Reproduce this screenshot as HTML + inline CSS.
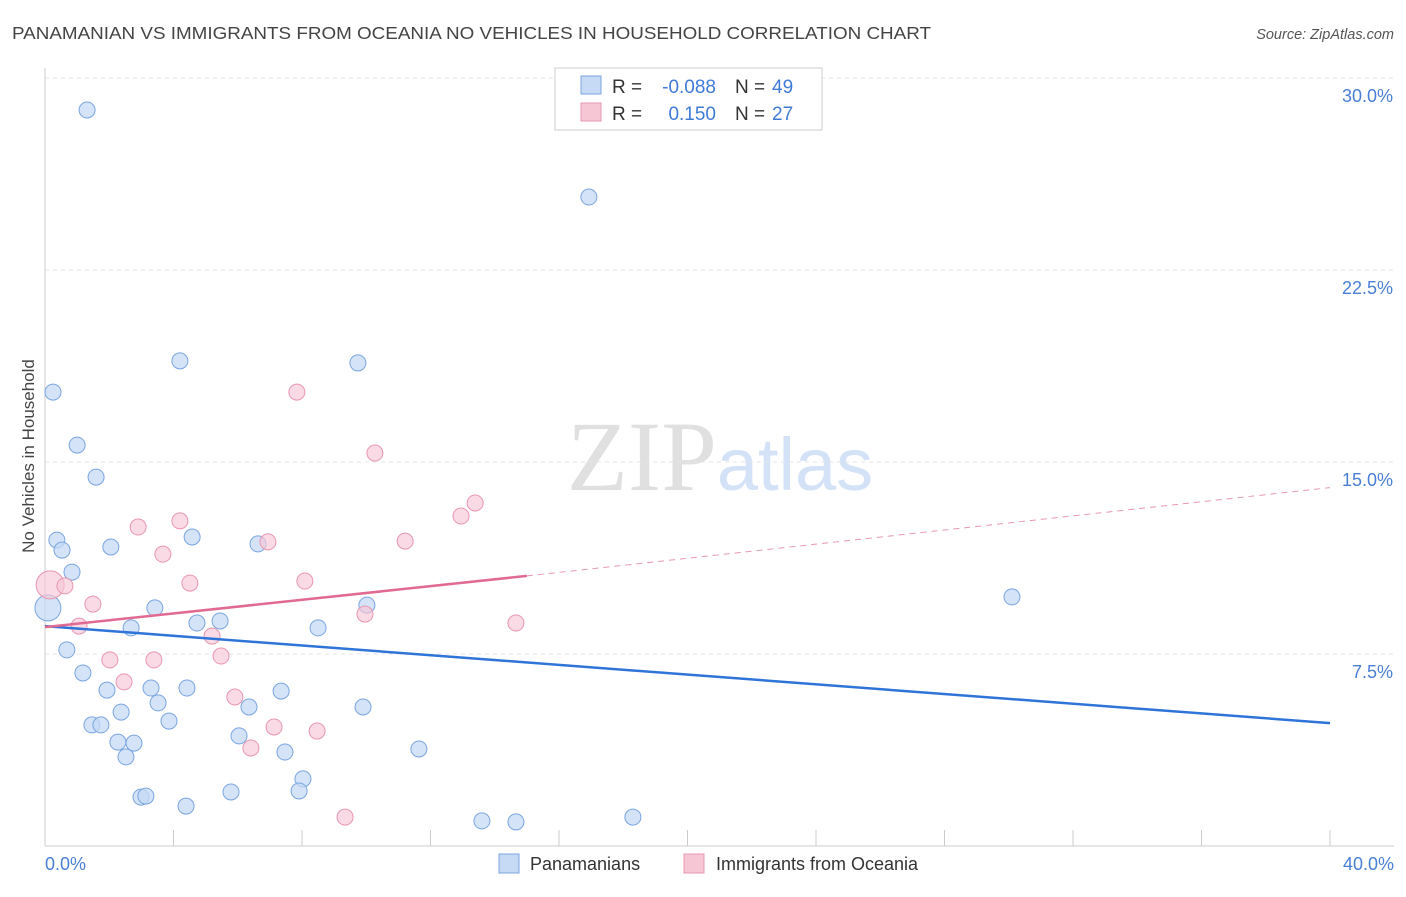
<!DOCTYPE html>
<html><head><meta charset="utf-8"><style>
body{margin:0;background:#fff;font-family:"Liberation Sans",sans-serif}
</style></head><body>
<svg id="chart" width="1406" height="892" xmlns="http://www.w3.org/2000/svg" font-family="Liberation Sans, sans-serif">
<text x="12" y="39" font-size="17.5" fill="#444" textLength="919" lengthAdjust="spacingAndGlyphs">PANAMANIAN VS IMMIGRANTS FROM OCEANIA NO VEHICLES IN HOUSEHOLD CORRELATION CHART</text>
<text x="1394" y="39" font-size="14.5" fill="#555" font-style="italic" text-anchor="end">Source: ZipAtlas.com</text>
<text transform="translate(34,456) rotate(-90)" font-size="17" fill="#444" text-anchor="middle">No Vehicles in Household</text>
<text x="720" y="490" font-size="100" text-anchor="middle"><tspan fill="#e0e0e0" font-family="Liberation Serif, serif">ZIP</tspan><tspan fill="#d3e2f6" font-size="74">atlas</tspan></text>
<g id="grid"></g><g id="axes"></g><g id="marks"></g>
<g>
<rect x="555" y="68" width="267" height="62" fill="#fff" stroke="#ccc"/>
<rect x="581" y="76" width="20" height="18" fill="#c6d9f5" stroke="#7aa5e0"/>
<rect x="581" y="103" width="20" height="18" fill="#f7c6d5" stroke="#e897b0"/>
<text x="612" y="93" font-size="19" fill="#333">R =</text>
<text x="716" y="93" font-size="19" fill="#3f7bd6" text-anchor="end">-0.088</text>
<text x="735" y="93" font-size="19" fill="#333">N =</text>
<text x="772" y="93" font-size="19" fill="#3f7bd6">49</text>
<text x="612" y="120" font-size="19" fill="#333">R =</text>
<text x="716" y="120" font-size="19" fill="#3f7bd6" text-anchor="end">0.150</text>
<text x="735" y="120" font-size="19" fill="#333">N =</text>
<text x="772" y="120" font-size="19" fill="#3f7bd6">27</text>
</g>
<g>
<rect x="499" y="854" width="20" height="19" fill="#c6d9f5" stroke="#7aa5e0"/>
<text x="530" y="870" font-size="18" fill="#333">Panamanians</text>
<rect x="684" y="854" width="20" height="19" fill="#f7c6d5" stroke="#e897b0"/>
<text x="716" y="870" font-size="18" fill="#333">Immigrants from Oceania</text>
</g>
</svg>
<script>
const blueX=[1.31,16.93,4.2,9.74,0.25,1.0,1.59,0.37,0.53,2.05,4.58,6.63,0.84,0.09,3.42,10.02,30.1,2.68,4.73,5.45,8.5,0.68,1.18,1.93,3.3,4.42,7.35,3.52,2.37,6.35,9.9,3.86,1.46,1.74,6.04,2.27,2.77,7.47,11.64,2.52,8.03,7.91,5.79,2.99,3.14,4.39,13.6,14.66,18.3];
const blueY=[28.75,25.35,18.95,18.87,17.73,15.66,14.41,11.95,11.56,11.68,12.07,11.8,10.7,9.3,9.3,9.41,9.73,8.52,8.71,8.79,8.52,7.66,6.76,6.09,6.17,6.17,6.05,5.59,5.23,5.43,5.43,4.88,4.73,4.73,4.3,4.06,4.02,3.67,3.79,3.48,2.62,2.15,2.11,1.91,1.95,1.56,0.98,0.94,1.13];
const pinkX=[7.84,10.27,13.39,12.95,4.2,2.9,6.94,11.21,3.67,4.51,8.09,0.16,0.62,1.49,9.96,14.66,1.06,5.2,5.48,2.02,3.39,2.46,5.91,7.13,8.47,6.41,9.34];
const pinkY=[17.73,15.35,13.4,12.89,12.7,12.46,11.88,11.91,11.4,10.27,10.35,10.2,10.16,9.45,9.06,8.71,8.59,8.2,7.42,7.27,7.27,6.41,5.82,4.65,4.49,3.83,1.13];
const yTicks=[7.5,15.0,22.5,30.0];
const xTickLabels=["0.0%","40.0%"];
const blueTrend=[8.59,4.8];
const pinkTrend=[8.55,10.55,14.0];
const NS="http://www.w3.org/2000/svg";
const sx=v=>45+v*32.125, sy=v=>846-v*25.6;
function mk(tag,attrs,parent){const e=document.createElementNS(NS,tag);for(const k in attrs)e.setAttribute(k,attrs[k]);document.getElementById(parent).appendChild(e);return e;}
yTicks.forEach(t=>{
 const l=mk('line',{x1:45,x2:1394,y1:sy(t),y2:sy(t),stroke:'#e6e6e6','stroke-dasharray':'4,4'},'grid');
 
 
 const tx=mk('text',{x:1393,y:sy(t)+24,'font-size':18,fill:'#4a7fd6','text-anchor':'end'},'axes');
 tx.textContent=t.toFixed(1)+'%';
 
 
});
const ax=mk('line',{x1:45,x2:45,y1:68,y2:846,stroke:'#ccc'},'axes');


const bx=mk('line',{x1:45,x2:1394,y1:846,y2:846,stroke:'#ccc'},'axes');


for(let i=0;i<=10;i++){const t=mk('line',{x1:sx(i*4),x2:sx(i*4),y1:830,y2:846,stroke:'#ccc'},'axes');
 
 }
[[0,'start',45],[1,'end',1394]].forEach(([i,a,x])=>{const t=mk('text',{x:x,y:870,'font-size':18,fill:'#4a7fd6','text-anchor':a},'axes');t.textContent=xTickLabels[i];
 
 });
blueX.forEach((x,i)=>{const c=mk('circle',{cx:sx(x),cy:sy(blueY[i]),r:i==13?13:8,fill:'#c6d9f5','fill-opacity':0.75,stroke:'#7aa5e0','stroke-width':1},'marks');
 
 });
pinkX.forEach((x,i)=>{const c=mk('circle',{cx:sx(x),cy:sy(pinkY[i]),r:i==11?14:8,fill:'#f7c6d5','fill-opacity':0.65,stroke:'#e897b0','stroke-width':1},'marks');
 
 });
const bl=mk('line',{x1:sx(0),y1:sy(blueTrend[0]),x2:sx(40),y2:sy(blueTrend[1]),stroke:'#2f74d8','stroke-width':2.5},'marks');


const pl=mk('line',{x1:sx(0),y1:sy(pinkTrend[0]),x2:sx(15),y2:sy(pinkTrend[1]),stroke:'#e06a92','stroke-width':2.5},'marks');


const pd=mk('line',{x1:sx(15),y1:sy(pinkTrend[1]),x2:sx(40),y2:sy(pinkTrend[2]),stroke:'#e897b0','stroke-width':1,'stroke-dasharray':'6,5'},'marks');


</script>
</body></html>
